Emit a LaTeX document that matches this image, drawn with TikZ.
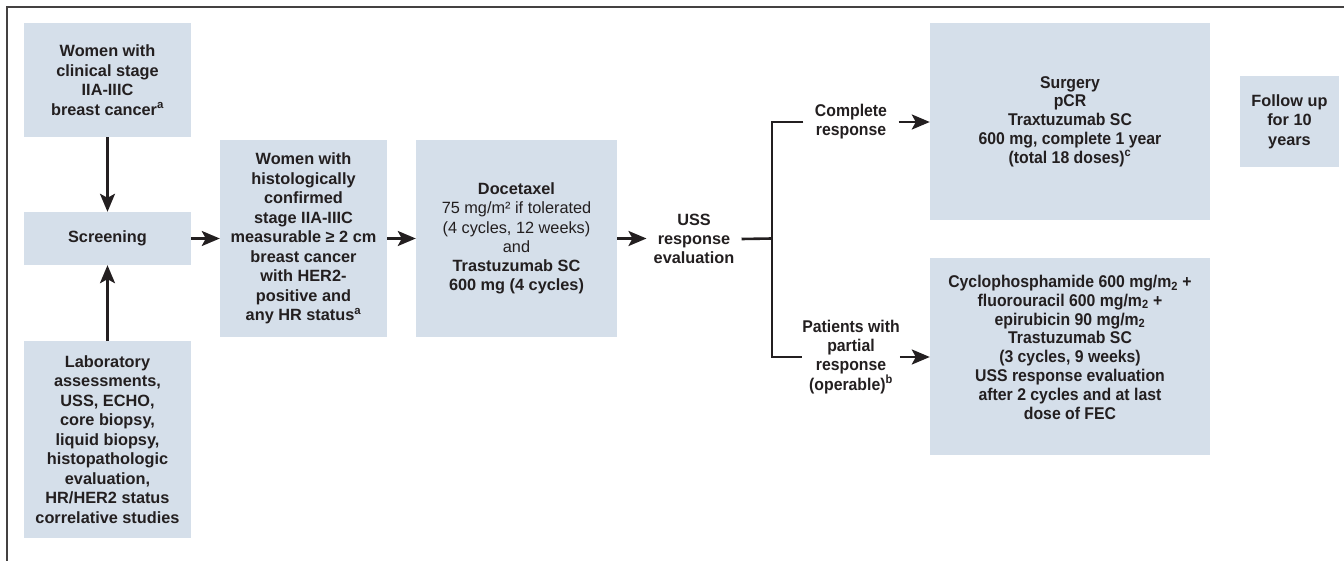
\documentclass[tikz,border=0pt]{standalone}
\usepackage{fontspec}
\setmainfont{Liberation Sans}
\newfontfamily\narrowfont[FakeStretch=0.93]{Liberation Sans}
\usetikzlibrary{arrows.meta}
\definecolor{boxblue}{RGB}{213,223,234}
\definecolor{ink}{RGB}{35,31,32}
\begin{document}
\begin{tikzpicture}[x=1pt,y=-1pt,
  box/.style={fill=boxblue, draw=none, align=center, inner sep=0pt, text=ink,
    font=\bfseries\fontsize{16.3}{19.5}\selectfont},
  nbox/.style={box, font=\narrowfont\bfseries\fontsize{17}{18.8}\selectfont},
  lbl/.style={align=center, inner sep=0pt, text=ink,
    font=\bfseries\fontsize{16.3}{19.2}\selectfont},
  nlbl/.style={lbl, font=\narrowfont\bfseries\fontsize{17}{19.2}\selectfont},
  conn/.style={line width=2.6pt, draw=ink},
  arr/.style={conn, -{Stealth[length=18pt,width=15pt,inset=4pt]}},
]
\useasboundingbox (0,0) rectangle (1344,561);
\draw[line width=1.4pt, draw=ink!85] (1344,7) -- (7,7) -- (7,561);

% left column
\node[box, minimum width=167pt, minimum height=114pt] (b1) at (107.5,80)
  {Women with\\clinical stage\\IIA-IIIC\\breast cancer\textsuperscript{a}};
\node[box, minimum width=167pt, minimum height=53pt] (scr) at (107.5,238.5)
  {Screening};
\node[box, minimum width=167pt, minimum height=197pt] (lab) at (107.5,439.5)
  {Laboratory\\assessments,\\USS, ECHO,\\core biopsy,\\liquid biopsy,\\histopathologic\\evaluation,\\HR/HER2 status\\correlative studies};

% middle
\node[box, minimum width=167pt, minimum height=197pt] (b2) at (303.5,238.5)
  {Women with\\histologically\\confirmed\\stage IIA-IIIC\\measurable ≥ 2 cm\\breast cancer\\with HER2-\\positive and\\any HR status\textsuperscript{a}};
\node[box, font=\mdseries\fontsize{16.3}{19.2}\selectfont, minimum width=201pt, minimum height=197pt] (b3) at (516.5,238.5)
  {\textbf{Docetaxel}\\75 mg/m² if tolerated\\(4 cycles, 12 weeks)\\and\\\textbf{Trastuzumab SC}\\\textbf{600 mg (4 cycles)}};
\node[lbl, inner xsep=7pt] (uss) at (694,239) {USS\\response\\evaluation};
\coordinate (jn) at (772,238.5);

% branches
\node[nlbl, inner xsep=11.3pt] (comp) at (851,122) {Complete\\response};
\node[nlbl] (part) at (851,357) {Patients with\\partial\\response\\(operable)\textsuperscript{b}};

% right
\node[nbox, minimum width=280pt, minimum height=197pt] (surg) at (1070,121.5)
  {Surgery\\pCR\\Traxtuzumab SC\\600 mg, complete 1 year\\(total 18 doses)\textsuperscript{c}};
\node[nbox, minimum width=280pt, minimum height=197pt] (fec) at (1070,356.5)
  {Cyclophosphamide 600 mg/m\textsubscript{2} +\\fluorouracil 600 mg/m\textsubscript{2} +\\epirubicin 90 mg/m\textsubscript{2}\\Trastuzumab SC\\(3 cycles, 9 weeks)\\USS response evaluation\\after 2 cycles and at last\\dose of FEC\\\mbox{}};
\node[box, minimum width=99pt, minimum height=91pt] (fu) at (1289.5,121.5)
  {Follow up\\for 10\\years};

% connectors
\draw[arr] (b1.south) -- (scr.north);
\draw[arr] (lab.north) -- (scr.south);
\draw[arr] (scr.east) -- (b2.west);
\draw[arr] (b2.east) -- (b3.west);
\draw[arr] (b3.east) -- (b3.east -| uss.west);
\draw[conn] (uss.east) -- (jn);
\draw[conn] (comp.west) -| (jn) |- (part.west);
\draw[arr] (comp.east) -- (comp.east -| surg.west);
\draw[arr] (part.east) -- (part.east -| fec.west);
\end{tikzpicture}
\end{document}
